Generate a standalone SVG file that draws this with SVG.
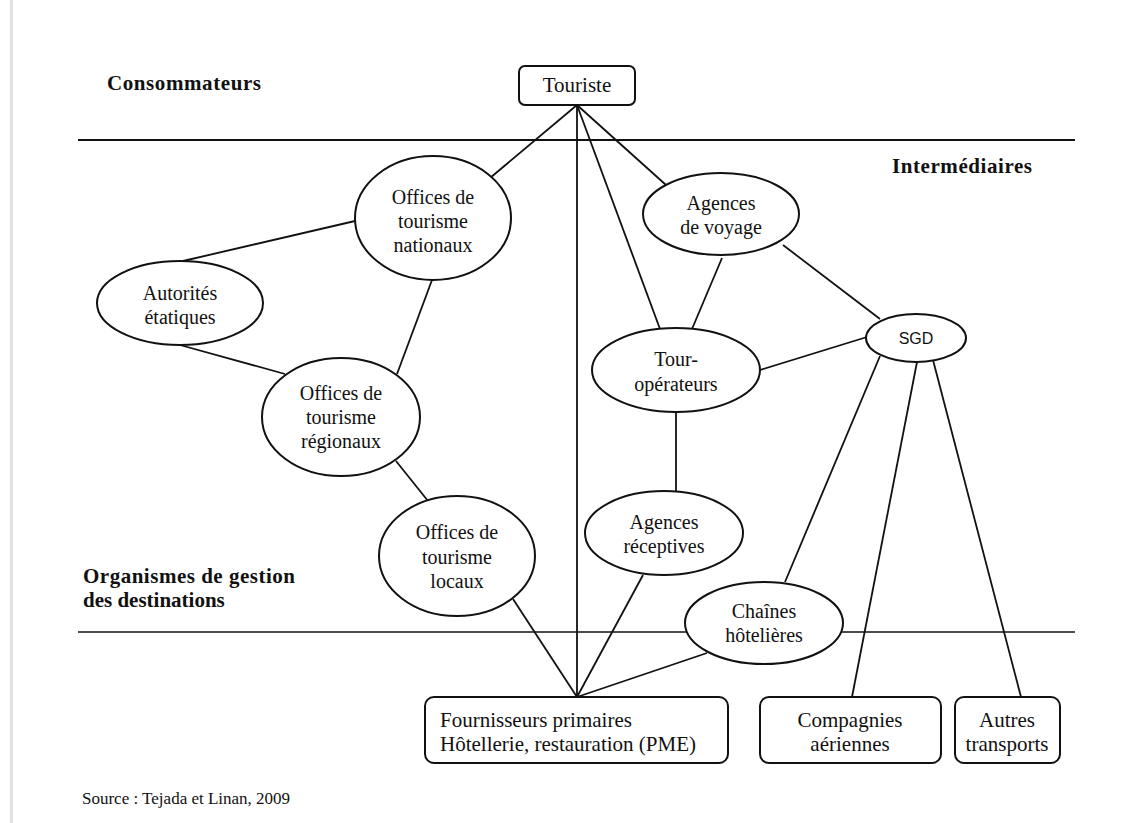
<svg xmlns="http://www.w3.org/2000/svg" width="1129" height="823" viewBox="0 0 1129 823">
<style>
.t{font-family:"Liberation Serif","Times New Roman",serif;font-size:20px;fill:#111;text-anchor:middle}
.tb{font-family:"Liberation Serif","Times New Roman",serif;font-size:21px;fill:#111}
.h{font-family:"Liberation Serif","Times New Roman",serif;font-size:21px;font-weight:bold;fill:#111}
.s{font-family:"Liberation Sans",Arial,sans-serif;font-size:16px;fill:#111;text-anchor:middle}
.n{fill:#fff;stroke:#111;stroke-width:2}
.c line{stroke:#111;stroke-width:1.8}
</style>
<rect x="0" y="0" width="1129" height="823" fill="#fff"/>
<rect x="10" y="0" width="3" height="823" fill="#e2e2e2"/>
<g id="dividers" stroke="#111">
<line x1="78" y1="140" x2="1075" y2="140" stroke-width="2"/>
<line x1="78" y1="632" x2="1075" y2="632" stroke-width="1.5"/>
</g>
<g id="labels">
<text class="h" x="107" y="90" textLength="154">Consommateurs</text>
<text class="h" x="892" y="173" textLength="140">Intermédiaires</text>
<text class="h" x="83" y="583" textLength="212">Organismes de gestion</text>
<text class="h" x="83" y="607">des destinations</text>
<text class="tb" x="82" y="804" style="font-size:17px">Source : Tejada et Linan, 2009</text>
</g>
<g id="connectors" class="c">
<line x1="577" y1="105" x2="490" y2="178"/>
<line x1="577" y1="105" x2="577" y2="697"/>
<line x1="577" y1="105" x2="660" y2="329"/>
<line x1="577" y1="105" x2="666" y2="185"/>
<line x1="355" y1="221" x2="183" y2="261"/>
<line x1="432" y1="280" x2="397" y2="374"/>
<line x1="180" y1="345" x2="285" y2="374"/>
<line x1="396" y1="461" x2="428" y2="501"/>
<line x1="513" y1="599" x2="577" y2="697"/>
<line x1="643" y1="575" x2="577" y2="697"/>
<line x1="707" y1="653" x2="577" y2="697"/>
<line x1="722" y1="258" x2="692" y2="329"/>
<line x1="783" y1="245" x2="880" y2="319"/>
<line x1="760" y1="370" x2="867" y2="337"/>
<line x1="676" y1="412" x2="676" y2="492"/>
<line x1="880" y1="356" x2="785" y2="582"/>
<line x1="917" y1="362" x2="852" y2="697"/>
<line x1="933" y1="360" x2="1021" y2="697"/>
</g>
<g id="touriste">
<rect class="n" x="519" y="66" width="116" height="39" rx="6"/>
<text class="t" x="577" y="92" style="font-size:21px">Touriste</text>
</g>
<g id="offices-nationaux">
<ellipse class="n" cx="433" cy="218" rx="78" ry="62"/>
<text class="t" x="433" y="204">Offices de</text>
<text class="t" x="433" y="228">tourisme</text>
<text class="t" x="433" y="252">nationaux</text>
</g>
<g id="autorites">
<ellipse class="n" cx="180" cy="303" rx="83" ry="42"/>
<text class="t" x="180" y="300">Autorités</text>
<text class="t" x="180" y="324">étatiques</text>
</g>
<g id="offices-regionaux">
<ellipse class="n" cx="341" cy="417" rx="79" ry="59"/>
<text class="t" x="341" y="400">Offices de</text>
<text class="t" x="341" y="424">tourisme</text>
<text class="t" x="341" y="448">régionaux</text>
</g>
<g id="offices-locaux">
<ellipse class="n" cx="457" cy="556" rx="78" ry="60"/>
<text class="t" x="457" y="539">Offices de</text>
<text class="t" x="457" y="564">tourisme</text>
<text class="t" x="457" y="588">locaux</text>
</g>
<g id="agences-voyage">
<ellipse class="n" cx="721" cy="214" rx="78" ry="41"/>
<text class="t" x="721" y="210">Agences</text>
<text class="t" x="721" y="234">de voyage</text>
</g>
<g id="tour-operateurs">
<ellipse class="n" cx="676" cy="370" rx="84" ry="42"/>
<text class="t" x="676" y="366">Tour-</text>
<text class="t" x="676" y="391">opérateurs</text>
</g>
<g id="agences-receptives">
<ellipse class="n" cx="664" cy="533" rx="79" ry="42"/>
<text class="t" x="664" y="529">Agences</text>
<text class="t" x="664" y="553">réceptives</text>
</g>
<g id="chaines-hotelieres">
<ellipse class="n" cx="764" cy="623" rx="79" ry="41"/>
<text class="t" x="764" y="618">Chaînes</text>
<text class="t" x="764" y="642">hôtelières</text>
</g>
<g id="sgd">
<ellipse class="n" cx="916" cy="338" rx="50" ry="24"/>
<text class="s" x="916" y="344">SGD</text>
</g>
<g id="fournisseurs">
<rect class="n" x="425" y="697" width="303" height="66" rx="9"/>
<text class="tb" x="440" y="727">Fournisseurs primaires</text>
<text class="tb" x="440" y="751">Hôtellerie, restauration (PME)</text>
</g>
<g id="compagnies">
<rect class="n" x="760" y="697" width="181" height="66" rx="9"/>
<text class="t" x="850" y="727" style="font-size:21px">Compagnies</text>
<text class="t" x="850" y="751" style="font-size:21px">aériennes</text>
</g>
<g id="autres">
<rect class="n" x="955" y="697" width="105" height="66" rx="9"/>
<text class="t" x="1007" y="727" style="font-size:21px">Autres</text>
<text class="t" x="1007" y="751" style="font-size:21px">transports</text>
</g>
</svg>
